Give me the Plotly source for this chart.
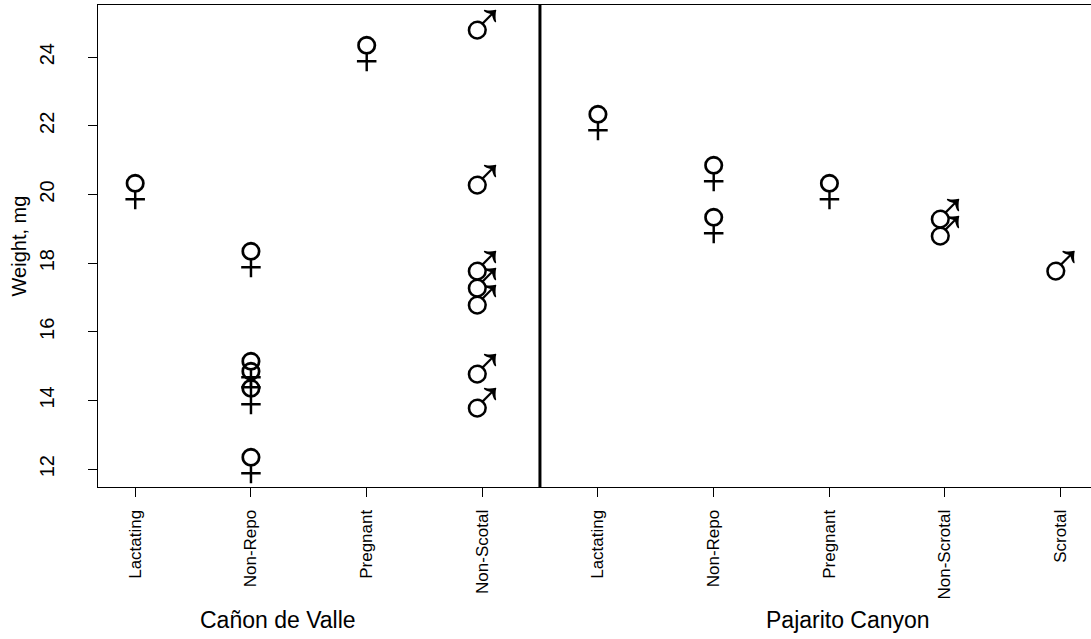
import plotly.graph_objects as go

# Category axis (two sites)
categories = ["Lactating", "Non-Repo", "Pregnant", "Non-Scotal",
              "Lactating", "Non-Repo", "Pregnant", "Non-Scrotal", "Scrotal"]
sites = ["Cañon de Valle", "Pajarito Canyon"]

# Female observations: category index (1-based) and weight, mg
female_cat = [1, 2, 2, 2, 2, 2, 3, 5, 6, 6, 7]
female_wt = [20.0, 18.0, 14.8, 14.5, 14.0, 12.0, 24.0, 22.0, 20.5, 19.0, 20.0]

# Male observations
male_cat = [4, 4, 4, 4, 4, 4, 4, 8, 8, 9]
male_wt = [24.75, 20.25, 17.75, 17.25, 16.75, 14.75, 13.75, 19.25, 18.75, 17.75]

y_ticks = [12, 14, 16, 18, 20, 22, 24]

FONT = "Liberation Sans, Arial, sans-serif"
SYM_SIZE = 68

fig = go.Figure()
fig.add_trace(go.Scatter(
    x=female_cat, y=female_wt, mode="text",
    text=["♀"] * len(female_wt), textposition="middle center",
    textfont=dict(family="Liberation Sans", size=SYM_SIZE, color="black"),
    showlegend=False, hoverinfo="skip", cliponaxis=False))
fig.add_trace(go.Scatter(
    x=male_cat, y=male_wt, mode="text",
    text=["♂"] * len(male_wt), textposition="middle center",
    textfont=dict(family="Liberation Sans", size=SYM_SIZE, color="black"),
    showlegend=False, hoverinfo="skip", cliponaxis=False))

# separator between sites
fig.add_vline(x=4.5, line=dict(color="black", width=3))

# site labels
for label, xpos in zip(sites, [2.24, 7.16]):
    fig.add_annotation(x=xpos, xref="x", y=-0.275, yref="paper",
                       text=label, showarrow=False, xanchor="center", yanchor="middle",
                       font=dict(family=FONT, size=23, color="black"))

fig.update_layout(
    width=1091, height=639,
    margin=dict(l=98, r=0, t=5, b=152),
    paper_bgcolor="white", plot_bgcolor="white",
    font=dict(family=FONT, color="black"),
    xaxis=dict(range=[0.68, 9.263], tickmode="array",
               tickvals=list(range(1, len(categories) + 1)), ticktext=categories,
               tickangle=-90, ticks="outside", ticklen=9, tickcolor="black",
               tickfont=dict(family=FONT, size=17, color="black"),
               showline=True, linecolor="black", linewidth=1, mirror=True,
               showgrid=False, zeroline=False, ticklabelstandoff=6),
    yaxis=dict(range=[11.48, 25.52], tickmode="array", tickvals=y_ticks,
               ticktext=[str(v) for v in y_ticks],
               tickangle=-90, ticks="outside", ticklen=9, tickcolor="black",
               tickfont=dict(family=FONT, size=20, color="black"),
               showline=True, linecolor="black", linewidth=1, mirror=False,
               showgrid=False, zeroline=False, ticklabelstandoff=26,
               title=dict(text="Weight, mg", font=dict(family=FONT, size=20, color="black"),
                          standoff=4)),
)

fig.write_html("out.html")
